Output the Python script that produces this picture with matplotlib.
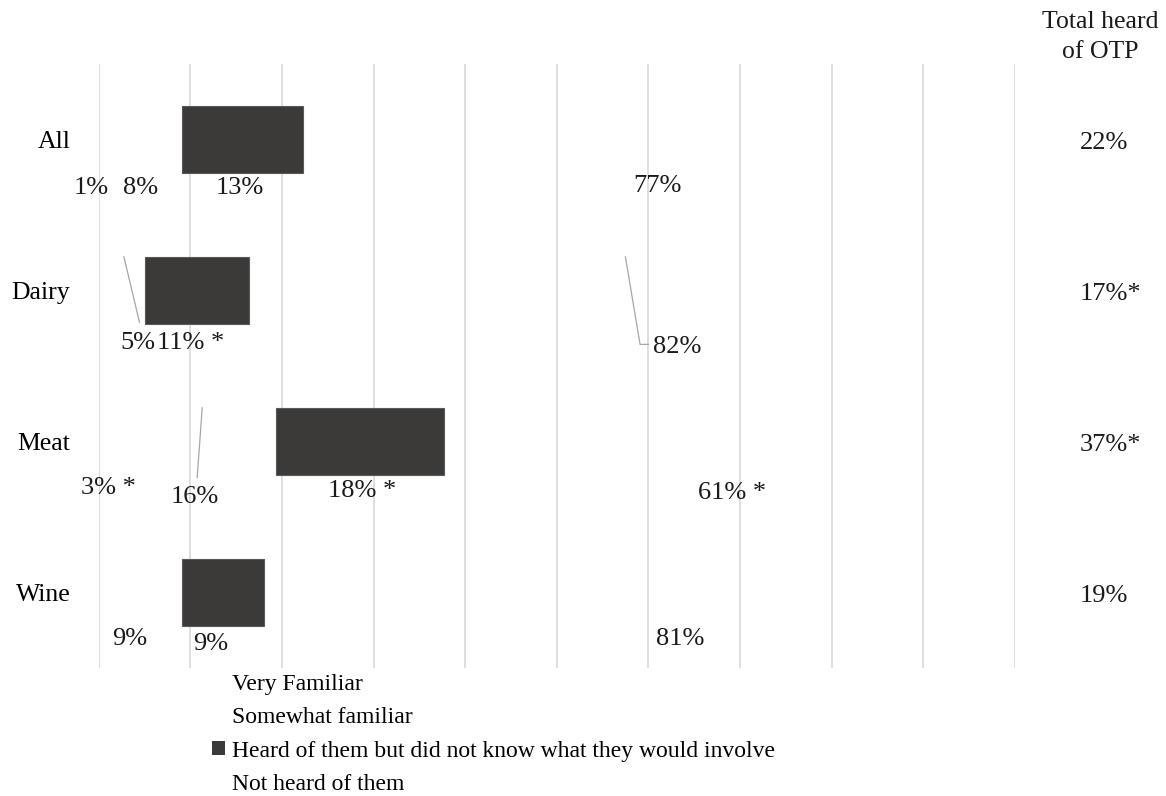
import matplotlib
matplotlib.use("Agg")
import matplotlib.pyplot as plt
from matplotlib.patches import Patch
import numpy as np

plt.rcParams['font.family'] = ['Liberation Serif', 'DejaVu Serif']

categories = ['All', 'Dairy', 'Meat', 'Wine']
series_names = ['Very Familiar', 'Somewhat familiar',
                'Heard of them but did not know what they would involve',
                'Not heard of them']

# share of respondents (%)
very_familiar = [1.2, 0.4, 3.2, 0.4]
somewhat_familiar = [7.9, 4.7, 16.2, 8.7]
heard_not_know = [13.2, 11.3, 18.3, 9.0]
not_heard = [77.3, 82.2, 61.0, 80.9]

# significance flags
very_sig = ['', '', '*', '']
somewhat_sig = ['', '', '', '']
heard_sig = ['', '*', '*', '']
not_heard_sig = ['', '', '*', '']

total_heard = [22, 17, 37, 19]
total_sig = ['', '*', '*', '']

series = [very_familiar, somewhat_familiar, heard_not_know, not_heard]
sigs = [very_sig, somewhat_sig, heard_sig, not_heard_sig]
fills = ['none', 'none', '#3b3a39', 'none']
edges = ['none', 'none', '#595959', 'none']

# label placement tweaks: x shift (% units) and y offset (row units) per series/category
label_dx = [[-1.4, 0.0, -0.5, 0.0],
            [-0.6, 1.5, -0.8, -1.4],
            [-0.3, -0.7, 0.25, -1.4],
            [0.1, 5.7, 0.9, 4.9]]
label_dy = [[0.318, 0.35, 0.305, 0.31],
            [0.318, 0.35, 0.37, 0.31],
            [0.318, 0.35, 0.325, 0.338],
            [0.305, 0.377, 0.344, 0.31]]

fig = plt.figure(figsize=(11.66, 7.96), dpi=100)
ax = fig.add_axes([98.7 / 1166, 1 - 668 / 796, 916 / 1166, 604 / 796])
ax.set_xlim(0, 100)
ax.set_ylim(3.5, -0.5)
ax.set_xticks(np.arange(0, 101, 10))
ax.grid(axis='x', color='#d9d9d9', lw=1.2)
ax.set_axisbelow(True)
for s in ax.spines.values():
    s.set_visible(False)
ax.tick_params(axis='both', length=0)
ax.tick_params(axis='x', labelbottom=False)
ax.set_yticks(range(len(categories)))
ax.set_yticklabels(categories, fontsize=18.5)
ax.tick_params(axis='y', pad=20.5)

ypos = np.arange(len(categories))
bar_h = 0.446
left = np.zeros(len(categories))
centers = []
for vals, fc, ec in zip(series, fills, edges):
    vals = np.array(vals)
    ax.barh(ypos, vals, left=left, height=bar_h, color=fc, edgecolor=ec,
            linewidth=0.8)
    centers.append(left + vals / 2)
    left = left + vals

label_pos = {}
for si, (vals, sg) in enumerate(zip(series, sigs)):
    for ci, v in enumerate(vals):
        if round(v) == 0:
            continue
        txt = f"{v:.0f}%" + (" " + sg[ci] if sg[ci] else "")
        lx = centers[si][ci] + label_dx[si][ci]
        ly = ci + label_dy[si][ci]
        label_pos[(si, ci)] = (lx, ly)
        ax.text(lx, ly, txt, ha='center', va='center', fontsize=19,
                color='#1a1a1a', clip_on=False)

# leader lines from segment to moved labels: (series, category, end dx, end dy, elbow dx)
leaders = [(1, 1, 0.2, -0.14, None),
           (3, 1, -4.1, -0.02, -3.2),
           (1, 2, 0.25, -0.13, None)]
for si, ci, ex, ey, elbow in leaders:
    lx, ly = label_pos[(si, ci)]
    xs = [centers[si][ci], lx + ex]
    ys = [ci - bar_h / 2, ly + ey]
    if elbow is not None:
        xs.append(lx + elbow)
        ys.append(ly + ey)
    ax.plot(xs, ys, color='#a6a6a6', lw=0.9, clip_on=False)

# totals column
for ci, (t, sg) in enumerate(zip(total_heard, total_sig)):
    ax.text(107.1, ci + 0.025, f"{t}%{sg}", ha='left', va='center',
            fontsize=19, color='#1a1a1a', clip_on=False)
fig.text(1100 / 1166, 1 - 37 / 796, "Total heard\nof OTP", ha='center',
         va='center', fontsize=18.5, linespacing=1.45, color='#1a1a1a')

handles = [Patch(facecolor=fc, edgecolor='none') for fc in fills]
fig.legend(handles, series_names, loc='upper left',
           bbox_to_anchor=(212 / 1166, 1 - 674 / 796), frameon=False,
           fontsize=17, handlelength=0.55, handleheight=0.55,
           handletextpad=0.3, labelspacing=0.52, borderpad=0,
           borderaxespad=0)

fig.savefig('out.png', dpi=100, facecolor='white')
